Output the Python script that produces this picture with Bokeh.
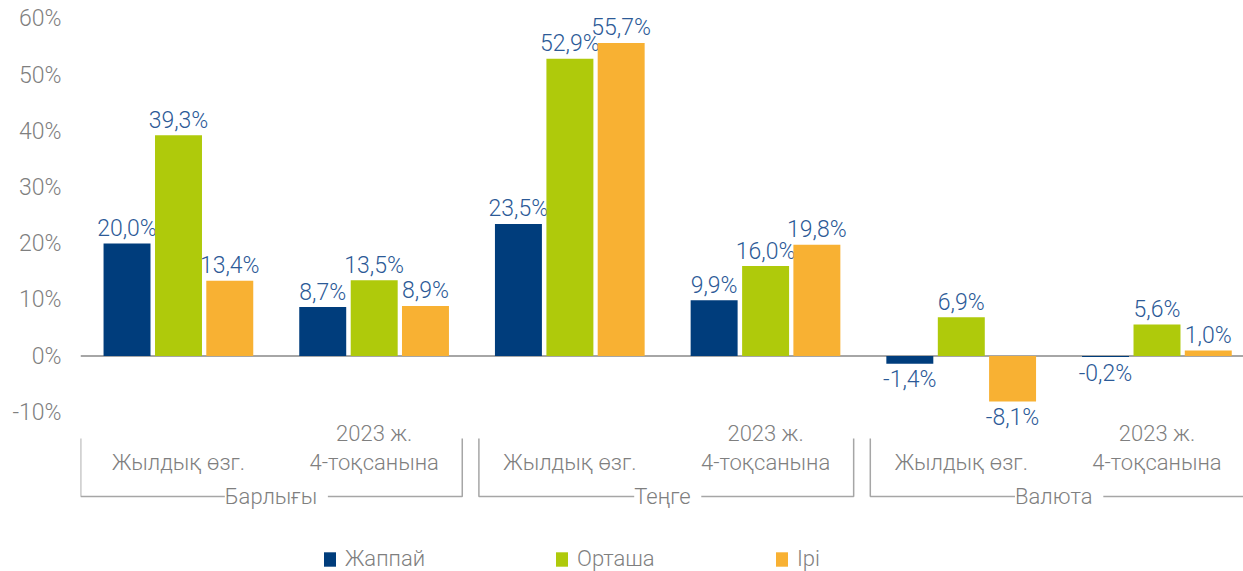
from bokeh.plotting import figure
from bokeh.models import (Range1d, FixedTicker, Span, ColumnDataSource, LabelSet,
                          Legend, LegendItem)
from bokeh.transform import dodge
from bokeh.core.properties import value
from bokeh.embed import file_html
from bokeh.resources import INLINE

# ---------------- data ----------------
top_categories = ["Барлығы", "Теңге", "Валюта"]
sub_categories = ["Жылдық өзг.", "2023 ж.\n4-тоқсанына"]
series_names = ["Жаппай", "Орташа", "Ірі"]
zhappai = [20.0, 8.7, 23.5, 9.9, -1.4, -0.2]
ortasha = [39.3, 13.5, 52.9, 16.0, 6.9, 5.6]
iri = [13.4, 8.9, 55.7, 19.8, -8.1, 1.0]
y_ticks = [-10, 0, 10, 20, 30, 40, 50, 60]

# ---------------- style ----------------
colors = ["#003D7C", "#AFCA0B", "#F8B133"]
VALUE_COLOR = "#2C5A97"
GRAY_TEXT = "#7F7F7F"
LINE_GRAY = "#A6A6A6"
FONT = "Roboto Light"
W, H = 1243, 571
LEFT = 80
PX = 5.62                    # pixels per percentage point
ZERO_Y = 355.5               # page y of the zero line
Y1 = ZERO_Y / PX
Y0 = -(H - ZERO_Y) / PX
GW = 195.7                   # group width in px
G0 = 178                     # centre of first group (px)
X0 = (LEFT - G0) / GW
X1 = (W - G0) / GW
BAR_W = 0.24
OFFS = [-0.263, 0.0, 0.262]


def ydata(page_y):
    return (ZERO_Y - page_y) / PX


p = figure(width=W, height=H, x_range=Range1d(X0, X1), y_range=Range1d(Y0, Y1),
           output_backend="svg", toolbar_location=None, x_axis_location=None,
           min_border_left=LEFT, min_border_right=0, min_border_top=0,
           min_border_bottom=0)
p.outline_line_color = None
p.xgrid.grid_line_color = None
p.ygrid.grid_line_color = None

# y axis
p.yaxis.ticker = FixedTicker(ticks=y_ticks)
p.yaxis.major_label_overrides = {t: f"{t}%" for t in y_ticks}
p.yaxis.axis_line_color = None
p.yaxis.major_tick_line_color = None
p.yaxis.minor_tick_line_color = None
p.yaxis.major_tick_out = 0
p.yaxis.major_tick_in = 0
p.yaxis.major_label_standoff = 19
p.yaxis.major_label_text_font = FONT
p.yaxis.major_label_text_font_size = "23px"
p.yaxis.major_label_text_color = GRAY_TEXT
p.yaxis.major_label_text_baseline = "hanging"

# zero line
p.add_layout(Span(location=0, dimension="width", line_color=LINE_GRAY,
                  line_width=2, level="underlay"))

# bars + value labels
n = len(zhappai)
xs = list(range(n))
renderers = []
for s_idx, vals in enumerate([zhappai, ortasha, iri]):
    labels = [f"{v:.1f}".replace(".", ",") + "%" for v in vals]
    yoff = [-15 if v >= 0 else 16 for v in vals]
    src = ColumnDataSource(dict(x=xs, top=vals, label=labels, yoff=yoff))
    r = p.vbar(x=dodge("x", OFFS[s_idx], range=p.x_range), top="top", bottom=0,
               width=BAR_W, source=src, fill_color=colors[s_idx], line_color=None)
    renderers.append(r)
    p.text(x=dodge("x", OFFS[s_idx], range=p.x_range), y="top", text="label",
           source=src, y_offset="yoff", text_align="center",
           text_baseline="alphabetic", text_font=value(FONT),
           text_font_size="23px", text_color=VALUE_COLOR)

# sub-category labels (two lines max)
sub_full = [sub_categories[i % len(sub_categories)] for i in range(n)]
line1 = [s.split("\n")[0] if "\n" in s else "" for s in sub_full]
line2 = [s.split("\n")[-1] for s in sub_full]
sub_src = ColumnDataSource(dict(x=xs, y=[-10] * n, l1=line1, l2=line2))
for col, off in (("l1", 21), ("l2", 50)):
    p.text(x="x", y="y", text=col, source=sub_src, y_offset=off,
           text_align="center", text_baseline="alphabetic",
           text_font=value(FONT), text_font_size="22px", text_color=GRAY_TEXT)

# brackets for top categories
br_top = ydata(438)
br_bot = ydata(496)
bxs, bys = [], []
for k in range(len(top_categories)):
    left = 2 * k - 0.5 + (0.0 if k == 0 else 0.035)
    right = 2 * k + 1.5 - 0.05
    bxs.append([left, left, right, right])
    bys.append([br_top, br_bot, br_bot, br_top])
p.multi_line(xs=bxs, ys=bys, line_color=LINE_GRAY, line_width=1.5)

top_src = ColumnDataSource(dict(x=[2 * k + 0.5 for k in range(len(top_categories))],
                                y=[br_bot] * len(top_categories),
                                text=[f" {t} " for t in top_categories]))
p.add_layout(LabelSet(x="x", y="y", text="text", source=top_src,
                      text_align="center", text_baseline="middle",
                      text_font=value(FONT), text_font_size="22px",
                      text_color=GRAY_TEXT, background_fill_color="white"))

# legends (one item each, positioned)
leg_x = [242, 474, 694]
for i, name in enumerate(series_names):
    lg = Legend(items=[LegendItem(label=name, renderers=[renderers[i]])],
                location=(leg_x[i], 0), orientation="horizontal",
                padding=0, margin=0, border_line_color=None,
                background_fill_alpha=0, glyph_width=15, glyph_height=18,
                label_standoff=8, label_text_font=FONT,
                label_text_font_size="22px", label_text_color=GRAY_TEXT,
                label_height=18)
    p.add_layout(lg)

open("out.html", "w").write(file_html(p, INLINE))
